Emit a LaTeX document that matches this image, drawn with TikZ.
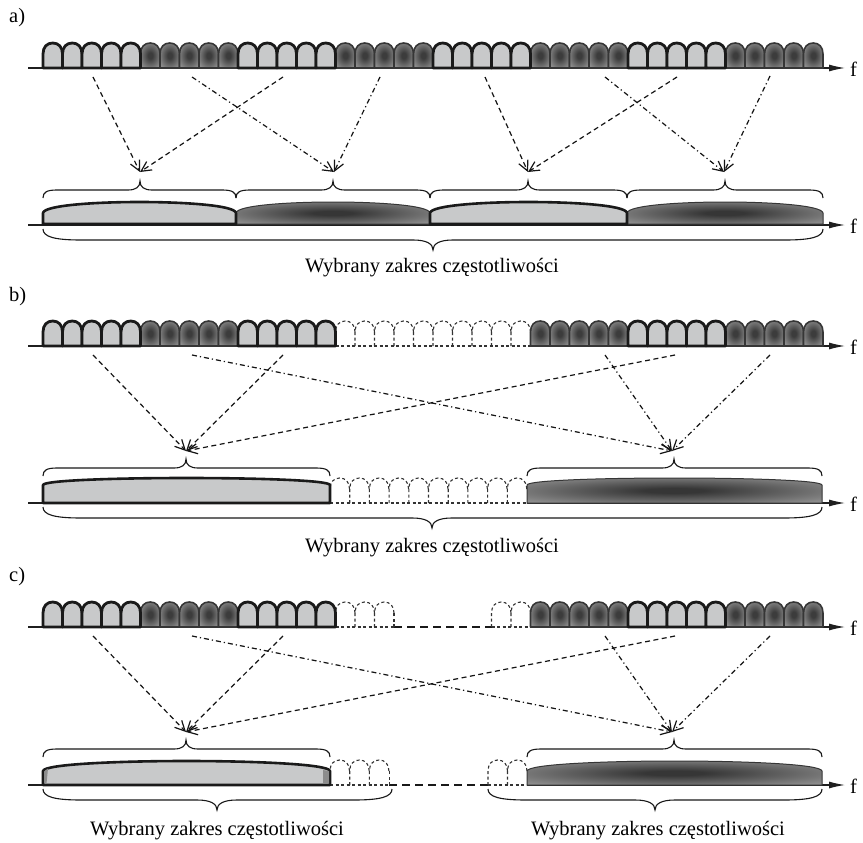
\documentclass[tikz,border=0pt]{standalone}
\usepackage{fontspec}
\setmainfont{Liberation Serif}
\usetikzlibrary{arrows.meta}

\definecolor{lightfill}{HTML}{C8C9CA}
\definecolor{lineblack}{HTML}{1A1A1A}
\definecolor{darkline}{HTML}{363636}
\definecolor{scin}{HTML}{3C3C3C}
\definecolor{scout}{HTML}{8E8E8E}
\definecolor{bandin}{HTML}{363636}
\definecolor{bandout}{HTML}{8C8C8C}

% soft dark centre of a dark subcarrier / dark band
\pgfdeclareradialshading{scblob}{\pgfpoint{0bp}{0bp}}{color(0bp)=(scin); color(6bp)=(scin); color(30bp)=(scout); color(50bp)=(scout)}
\pgfdeclareradialshading{bandblob}{\pgfpoint{0bp}{0bp}}{color(0bp)=(bandin); color(5bp)=(bandin); color(32bp)=(bandout); color(50bp)=(bandout)}

% wide band: x0, x1, base y, side height, middle height
\newcommand\lightband[5]{\filldraw[bandlight] (#1,#3) -- (#1,{#3-#4}) .. controls ({#1+1},{#3-#4-0.7*(#5-#4)}) and ({#1+0.27*(#2-#1)},{#3-#5}) .. ({(#1+#2)/2},{#3-#5}) .. controls ({#2-0.27*(#2-#1)},{#3-#5}) and ({#2-1},{#3-#4-0.7*(#5-#4)}) .. (#2,{#3-#4}) -- (#2,#3) -- cycle;}
\newcommand\darkband[5]{\shadedraw[banddark] (#1,#3) -- (#1,{#3-#4}) .. controls ({#1+1},{#3-#4-0.7*(#5-#4)}) and ({#1+0.27*(#2-#1)},{#3-#5}) .. ({(#1+#2)/2},{#3-#5}) .. controls ({#2-0.27*(#2-#1)},{#3-#5}) and ({#2-1},{#3-#4-0.7*(#5-#4)}) .. (#2,{#3-#4}) -- (#2,#3) -- cycle;}

% brace with its tip up: left x, tip x, right x, y of the ends
\newcommand\upbrace[4]{\draw[bracestyle] (#1,#4) .. controls (#1,{#4-6}) and ({#1+4},{#4-8}) .. ({#1+14},{#4-8}) -- ({#2-12},{#4-8}) .. controls ({#2-4},{#4-8}) and (#2,{#4-11}) .. (#2,{#4-17}) .. controls (#2,{#4-11}) and ({#2+4},{#4-8}) .. ({#2+12},{#4-8}) -- ({#3-14},{#4-8}) .. controls ({#3-4},{#4-8}) and (#3,{#4-6}) .. (#3,#4);}
% brace with its tip down
\newcommand\downbrace[4]{\draw[bracestyle] (#1,#4) .. controls (#1,{#4+8}) and ({#1+12},{#4+11}) .. ({#1+38},{#4+11}) -- ({#2-20},{#4+11}) .. controls ({#2-6},{#4+11}) and (#2,{#4+15}) .. (#2,{#4+21}) .. controls (#2,{#4+15}) and ({#2+6},{#4+11}) .. ({#2+20},{#4+11}) -- ({#3-38},{#4+11}) .. controls ({#3-12},{#4+11}) and (#3,{#4+8}) .. (#3,#4);}

\tikzset{
  lbl/.style={font=\fontsize{20.5}{24}\selectfont, inner sep=0pt},
  axisline/.style={draw=black!88, line width=1.2pt},
  axisarrow/.style={axisline, -{Latex[length=16pt,width=7pt]}},
  ghost/.style={draw=black!80, line width=1.1pt, dash pattern=on 3pt off 2.5pt},
  gapline/.style={draw=black!90, line width=2pt, dash pattern=on 8pt off 5pt},
  dashconn/.style={draw=black!92, line width=1.2pt, dash pattern=on 5pt off 3.5pt, -{Straight Barb[length=10pt,width=10pt]}},
  dotconn/.style={draw=black!92, line width=1.2pt, dash pattern=on 5pt off 3pt on 1.2pt off 3pt, -{Straight Barb[length=10pt,width=10pt]}},
  bracestyle/.style={draw=black!90, line width=1.1pt},
  bandlight/.style={fill=lightfill, draw=lineblack, line width=2.6pt, line join=round},
  banddark/.style={shading=bandblob, draw=darkline, line width=1pt},
  lightsc/.pic={\filldraw[fill=lightfill, draw=lineblack, line width=2.8pt, line join=round]
     (0,0) -- (0,-14) .. controls (0,-21) and (4,-25) .. (9.75,-25) .. controls (15.5,-25) and (19.5,-21) .. (19.5,-14) -- (19.5,0) -- cycle;},
  darksc/.pic={\shadedraw[shading=scblob, draw=darkline, line width=1.6pt, line join=round]
     (0,0) -- (0,-14) .. controls (0,-21) and (4,-25) .. (9.75,-25) .. controls (15.5,-25) and (19.5,-21) .. (19.5,-14) -- (19.5,0) -- cycle;},
  ghostsc/.pic={\draw[ghost]
     (0,0) -- (0,-14) .. controls (0,-21) and (4,-25) .. (9.75,-25) .. controls (15.5,-25) and (19.5,-21) .. (19.5,-14);},
}

\begin{document}
\begin{tikzpicture}[x=1pt,y=-1pt]
\useasboundingbox (0,0) rectangle (863,843);
\fill[white] (0,0) rectangle (863,843);

% ================= a) =================
\node[lbl, anchor=west] (la) at (9,18) {a)};
\draw[axisarrow] (28,68) -- (845,68);
\foreach \g in {1,3,5,7} {\foreach \i in {0,...,4} {\pic at ({43+97.5*\g+19.5*\i},68) {darksc};}}
\foreach \g in {0,2,4,6} {\foreach \i in {0,...,4} {\pic at ({43+97.5*\g+19.5*\i},68) {lightsc};}}
\node[lbl, anchor=west] (fa1) at (850,69) {f};

\draw[axisarrow] (28,225) -- (845,225);
\darkband{236}{430}{224}{11}{22}
\darkband{627}{823}{224}{11}{22}
\lightband{43}{236}{224}{11}{22}
\lightband{430}{627}{224}{11}{22}
\node[lbl, anchor=west] (fa2) at (850,226) {f};

\upbrace{43}{140}{236}{198}
\upbrace{236}{333}{430}{198}
\upbrace{430}{528}{627}{198}
\upbrace{627}{725}{823}{198}
\downbrace{43}{433}{823}{229}
\node[lbl] (ta) at (432,268) {Wybrany zakres częstotliwości};

\coordinate (a-t1) at (140,172);
\coordinate (a-t2) at (334,172);
\coordinate (a-t3) at (528,172);
\coordinate (a-t4) at (724,172);
\coordinate (a-s1) at (93,77);
\coordinate (a-s2) at (283,77);
\coordinate (a-s3) at (192,77);
\coordinate (a-s4) at (380,77);
\coordinate (a-s5) at (485,77);
\coordinate (a-s6) at (677,77);
\coordinate (a-s7) at (605,77);
\coordinate (a-s8) at (770,76);
\draw[dashconn] (a-s1) -- (a-t1);
\draw[dashconn] (a-s2) -- (a-t1);
\draw[dotconn] (a-s3) -- (a-t2);
\draw[dotconn] (a-s4) -- (a-t2);
\draw[dashconn] (a-s5) -- (a-t3);
\draw[dashconn] (a-s6) -- (a-t3);
\draw[dotconn] (a-s7) -- (a-t4);
\draw[dotconn] (a-s8) -- (a-t4);

% ================= b) =================
\node[lbl, anchor=west] (lb) at (9,297) {b)};
\draw[axisline] (28,346) -- (335.5,346);
\draw[ghost] (335.5,346) -- (530.5,346);
\draw[axisarrow] (530.5,346) -- (845,346);
\foreach \n in {15,...,24} {\pic at ({43+19.5*\n},346) {ghostsc};}
\draw[ghost] (530.5,346) -- (530.5,332);
\foreach \g in {1,5,7} {\foreach \i in {0,...,4} {\pic at ({43+97.5*\g+19.5*\i},346) {darksc};}}
\foreach \g in {0,2,6} {\foreach \i in {0,...,4} {\pic at ({43+97.5*\g+19.5*\i},346) {lightsc};}}
\node[lbl, anchor=west] (fb1) at (850,347) {f};

\draw[axisline] (28,503) -- (330,503);
\draw[ghost] (330,503) -- (527,503);
\draw[axisarrow] (527,503) -- (845,503);
\foreach \n in {0,...,9} {\pic at ({330+19.7*\n},503) {ghostsc};}
\darkband{527}{822}{503}{18}{25}
\lightband{43}{330}{503}{18}{25}
\node[lbl, anchor=west] (fb2) at (850,504) {f};

\upbrace{43}{186}{330}{476}
\upbrace{527}{674}{822}{476}
\downbrace{43}{432}{822}{507}
\node[lbl] (tb) at (432,548) {Wybrany zakres częstotliwości};

\coordinate (b-t1) at (186,451);
\coordinate (b-t2) at (672,451);
\coordinate (b-s1) at (93,355);
\coordinate (b-s2) at (283,355);
\coordinate (b-s3) at (675,355);
\coordinate (b-s4) at (192,355);
\coordinate (b-s5) at (605,355);
\coordinate (b-s6) at (770,355);
\draw[dashconn] (b-s1) -- (b-t1);
\draw[dashconn] (b-s2) -- (b-t1);
\draw[dashconn] (b-s3) -- (b-t1);
\draw[dotconn] (b-s4) -- (b-t2);
\draw[dotconn] (b-s5) -- (b-t2);
\draw[dotconn] (b-s6) -- (b-t2);

% ================= c) =================
\node[lbl, anchor=west] (lc) at (9,577) {c)};
\draw[axisline] (28,627) -- (335.5,627);
\draw[ghost] (335.5,627) -- (394,627);
\draw[gapline] (394,627) -- (491.5,627);
\draw[ghost] (491.5,627) -- (530.5,627);
\draw[axisarrow] (530.5,627) -- (845,627);
\foreach \n in {15,16,17,23,24} {\pic at ({43+19.5*\n},627) {ghostsc};}
\draw[ghost] (394,627) -- (394,613);
\draw[ghost] (530.5,627) -- (530.5,613);
\foreach \g in {1,5,7} {\foreach \i in {0,...,4} {\pic at ({43+97.5*\g+19.5*\i},627) {darksc};}}
\foreach \g in {0,2,6} {\foreach \i in {0,...,4} {\pic at ({43+97.5*\g+19.5*\i},627) {lightsc};}}
\node[lbl, anchor=west] (fc1) at (850,628) {f};

\draw[axisline] (28,785) -- (330,785);
\draw[ghost] (330,785) -- (389,785);
\draw[gapline] (389,785) -- (488,785);
\draw[ghost] (488,785) -- (527,785);
\draw[axisarrow] (527,785) -- (845,785);
\foreach \n in {0,1,2} {\pic at ({330+19.7*\n},785) {ghostsc};}
\draw[ghost] (389.1,785) -- (389.1,771);
\foreach \n in {0,1} {\pic at ({488+19.5*\n},785) {ghostsc};}
\darkband{527}{822}{785}{14}{24}
\lightband{43}{330}{785}{14}{24}
\fill[bandout] (323,783.5) -- (323,770) -- (329,771) -- (329,783.5) -- cycle;
\fill[bandout] (44.5,783.5) -- (44.5,771) -- (48,768.5) -- (46.5,783.5) -- cycle;
\node[lbl, anchor=west] (fc2) at (850,786) {f};

\upbrace{43}{186}{330}{757}
\upbrace{527}{674}{822}{757}
\downbrace{43}{217}{392}{789}
\downbrace{488}{655}{822}{789}
\node[lbl] (tc1) at (217,831) {Wybrany zakres częstotliwości};
\node[lbl] (tc2) at (658,831) {Wybrany zakres częstotliwości};

\coordinate (c-t1) at (186,732);
\coordinate (c-t2) at (672,732);
\coordinate (c-s1) at (93,636);
\coordinate (c-s2) at (283,636);
\coordinate (c-s3) at (675,636);
\coordinate (c-s4) at (192,636);
\coordinate (c-s5) at (605,636);
\coordinate (c-s6) at (770,636);
\draw[dashconn] (c-s1) -- (c-t1);
\draw[dashconn] (c-s2) -- (c-t1);
\draw[dashconn] (c-s3) -- (c-t1);
\draw[dotconn] (c-s4) -- (c-t2);
\draw[dotconn] (c-s5) -- (c-t2);
\draw[dotconn] (c-s6) -- (c-t2);
\end{tikzpicture}
\end{document}
